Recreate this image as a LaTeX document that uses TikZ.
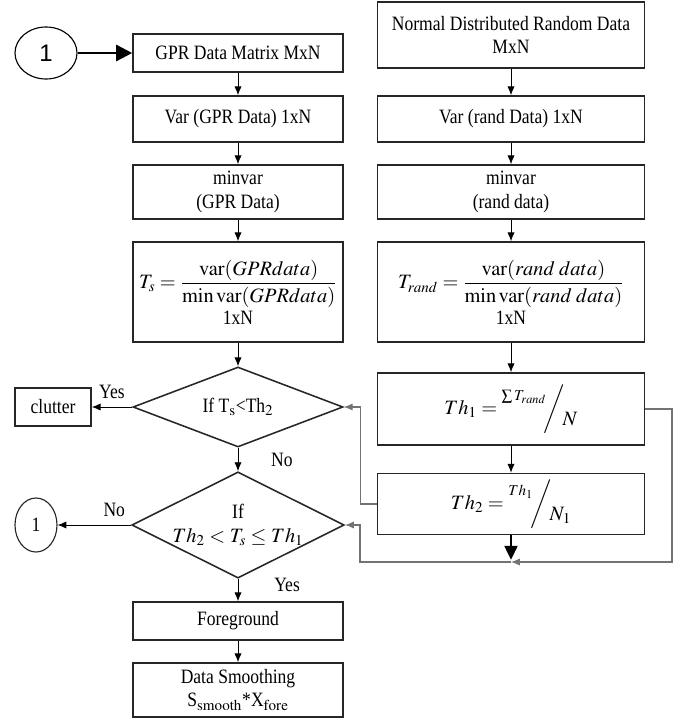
\documentclass[tikz,border=0pt]{standalone}
\usepackage{amsmath}
\usepackage{mathptmx}
\usepackage[no-math]{fontspec}
\setmainfont{Liberation Serif}[FakeStretch=0.86]
\setsansfont{Liberation Sans}
\usetikzlibrary{arrows.meta,shapes.geometric}
\newcommand{\slfrac}[2]{\raisebox{1.5ex}{$\scriptstyle #1$}\!\bigg/\!\raisebox{-1.2ex}{$#2$}}

\begin{document}
\begin{tikzpicture}[x=0.025cm,y=-0.025cm,
		box/.style={draw=black!85,line width=1.1pt,inner sep=2pt,align=center,font=\fontsize{14.5}{16.5}\selectfont},
		lbox/.style={box,minimum width=5.25cm},
		rbox/.style={box,minimum width=6.675cm},
		dec/.style={box,diamond,aspect=2,inner sep=0pt,minimum width=5.25cm},
		lbl/.style={font=\fontsize{14.5}{16.5}\selectfont},
		arr/.style={-{Latex[length=2.2mm,width=1.8mm]},line width=0.6pt},
		back/.style={arr,draw=black!55,line width=0.8pt}]
	\useasboundingbox (0,0) rectangle (677,721);
%
	\node[draw,ellipse,line width=0.8pt,minimum width=1.55cm,minimum height=1.3cm,font=\fontsize{17}{20}\sffamily] (start) at (46,53) {1};
	\node[lbox,minimum height=0.95cm] (gpr) at (238,53) {GPR Data Matrix MxN};
	\node[lbox,minimum height=1.15cm] (vargpr) at (238,119) {Var (GPR Data) 1xN};
	\node[lbox,minimum height=1.35cm] (mingpr) at (238,192) {minvar\\(GPR Data)};
	\node[lbox,minimum height=2.5cm] (ts) at (238,292) {$\displaystyle T_s=\frac{\operatorname{var}(GPRdata)}{\min\operatorname{var}(GPRdata)}$\\[1pt]1xN};
	\node[dec,minimum height=2cm] (dec1) at (238,407) {If T$_\mathrm{s}$<Th$_2$};
	\node[dec,minimum height=2.65cm] (dec2) at (238,525) {If\\$Th_2<T_s\le Th_1$};
	\node[box,minimum width=1.9cm,minimum height=0.95cm] (clutter) at (53,407) {clutter};
	\node[box,ellipse,line width=0.8pt,minimum width=1.05cm,minimum height=1.35cm] (back1) at (36,525) {1};
	\node[lbox,minimum height=0.95cm] (fore) at (238,621) {Foreground};
	\node[lbox,minimum height=1.35cm] (smooth) at (238,690) {Data Smoothing\\S$_\mathrm{smooth}$*X$_\mathrm{fore}$};
%
	\node[rbox,minimum height=1.65cm] (rnd) at (511,35) {Normal Distributed Random Data\\MxN};
	\node[rbox,minimum height=1.15cm] (varrnd) at (511,119) {Var (rand Data) 1xN};
	\node[rbox,minimum height=1.35cm] (minrnd) at (511,192) {minvar\\(rand data)};
	\node[rbox,minimum height=2.5cm] (trand) at (511,292) {$\displaystyle T_{rand}=\frac{\operatorname{var}(rand\ data)}{\min\operatorname{var}(rand\ data)}$\\[1pt]1xN};
	\node[rbox,minimum height=1.8cm] (th1) at (511,409) {$Th_1=\slfrac{\sum T_{rand}}{N}$};
	\node[rbox,minimum height=1.525cm] (th2) at (511,504) {$Th_2=\slfrac{Th_1}{N_1}$};
	\coordinate (join) at (511,562);
	\coordinate (rt) at (672,562);
	\coordinate (lt) at (360,562);
%
	\draw[line width=1.8pt,-{Triangle[length=4mm,width=4mm]}] (start) -- (gpr);
	\draw[arr] (gpr) -- (vargpr);
	\draw[arr] (vargpr) -- (mingpr);
	\draw[arr] (mingpr) -- (ts);
	\draw[arr] (ts) -- (dec1);
	\draw[arr] (dec1) -- (dec2) node[lbl,midway,right,xshift=0.7cm] (no1) {No};
	\draw[arr] (dec1) -- (clutter) node[lbl,midway,above,yshift=2pt] (yes1) {Yes};
	\draw[arr] (dec2) -- (back1) node[lbl,midway,above,xshift=0.5cm,yshift=2pt] (no2) {No};
	\draw[arr] (dec2) -- (fore) node[lbl,pos=0.25,right,xshift=0.78cm] (yes2) {Yes};
	\draw[arr] (fore) -- (smooth);
%
	\draw[arr] (rnd) -- (varrnd);
	\draw[arr] (varrnd) -- (minrnd);
	\draw[arr] (minrnd) -- (trand);
	\draw[arr] (trand) -- (th1);
	\draw[arr] (th1) -- (th2);
	\draw[line width=1.8pt,-{Triangle[length=3.5mm,width=3.2mm]},shorten >=1.5pt] (th2) -- (join);
	\draw[back] (th1.east) -| (rt) -- (join);
	\draw[back] (join) -- (lt) |- (dec2.east);
	\draw[back] (th2.west) -- ++(-16,0) |- (dec1.east);
\end{tikzpicture}
\end{document}
